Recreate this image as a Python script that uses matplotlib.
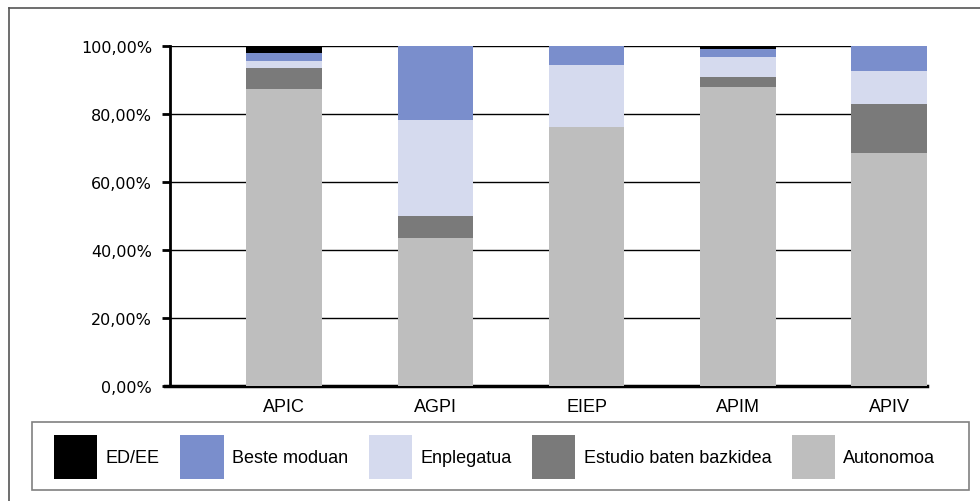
import numpy as np
import matplotlib as mpl
import matplotlib.pyplot as plt
from matplotlib.lines import Line2D
from matplotlib.patches import Rectangle
from matplotlib.ticker import FuncFormatter

mpl.use("Agg")

CATEGORIES = ["APIC", "AGPI", "EIEP", "APIM", "APIV"]

# stacked shares (%), bottom to top
AUTONOMOA = [87.3, 43.4, 76.1, 87.9, 68.4]
ESTUDIO = [6.2, 6.7, 0.0, 3.0, 14.5]
ENPLEGATUA = [2.1, 28.1, 18.3, 5.9, 9.7]
BESTE = [2.3, 21.8, 5.6, 2.3, 7.4]
ED_EE = [2.1, 0.0, 0.0, 0.9, 0.0]

SERIES = [
    ("Autonomoa", AUTONOMOA, "#bebebe"),
    ("Estudio baten bazkidea", ESTUDIO, "#7a7a7a"),
    ("Enplegatua", ENPLEGATUA, "#d5daee"),
    ("Beste moduan", BESTE, "#7a8ecc"),
    ("ED/EE", ED_EE, "#000000"),
]

narrow = ["Liberation Sans Narrow", "Liberation Sans", "DejaVu Sans"]

fig = plt.figure(figsize=(9.8, 5.02), dpi=100)
ax = fig.add_axes([170 / 980, 1 - 387 / 502, 757 / 980, 340 / 502])

x = np.arange(len(CATEGORIES))
bottom = np.zeros(len(CATEGORIES))
handles = []
for name, vals, color in SERIES:
    vals = np.array(vals)
    b = ax.bar(x, vals, 0.5, bottom=bottom, color=color, label=name, zorder=3)
    handles.append(b)
    bottom += vals

ax.set_xlim(-0.754, 4.25)
ax.set_ylim(0, 100)
ax.set_yticks(np.arange(0, 101, 20))
ax.yaxis.set_major_formatter(FuncFormatter(lambda v, p: f"{v:.2f}%".replace(".", ",")))
ax.grid(axis="y", color="black", linewidth=1, zorder=1)
ax.set_axisbelow(True)

for s in ["top", "right"]:
    ax.spines[s].set_visible(False)
ax.spines["left"].set_linewidth(2)
ax.spines["bottom"].set_linewidth(2.5)
ax.spines["bottom"].set_bounds(-0.79, 4.25)

ax.tick_params(axis="y", length=6, width=2, pad=7, labelsize=11.5, colors="black")
ax.tick_params(axis="x", length=0, pad=9)
ax.set_xticks(x)
ax.set_xticklabels(CATEGORIES, fontsize=13, family=narrow)

# legend, ordered as in reference; frame drawn separately
order = [4, 3, 2, 1, 0]
leg = fig.legend(
    [handles[i] for i in order],
    [SERIES[i][0] for i in order],
    loc="center left",
    bbox_to_anchor=(54 / 980, 1 - 458 / 502),
    ncol=5,
    prop={"family": narrow, "size": 13},
    handlelength=2.4,
    handleheight=3.3,
    handletextpad=0.45,
    columnspacing=1.15,
    borderpad=0,
    borderaxespad=0,
    frameon=False,
)
fig.add_artist(Rectangle((32 / 980, 1 - 491 / 502), 937 / 980, 68 / 502,
                         transform=fig.transFigure, fill=False, edgecolor="#808080", lw=1.2))

# outer frame (left and top edges visible)
fig.add_artist(Line2D([9 / 980, 9 / 980], [0, 1 - 9 / 502], transform=fig.transFigure, color="#555555", lw=1.2))
fig.add_artist(Line2D([9 / 980, 1], [1 - 9 / 502, 1 - 9 / 502], transform=fig.transFigure, color="#555555", lw=1.2))

fig.savefig("out.png", dpi=100)
